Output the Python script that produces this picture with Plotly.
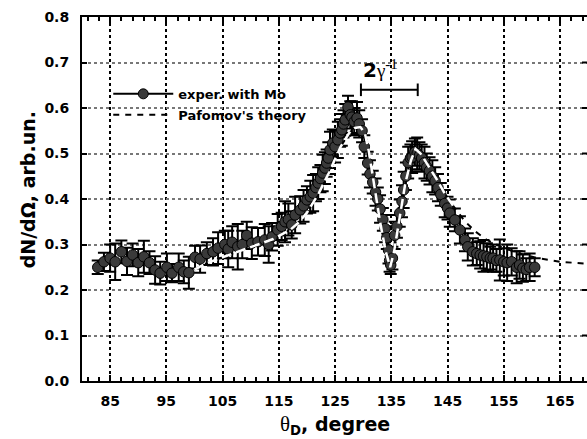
import plotly.graph_objects as go

# ---------------- data ----------------
theta_exp = [82.8, 83.9, 85.0, 85.9, 87.0, 88.0, 89.0, 90.0, 91.0, 92.0,
             93.0, 93.9, 95.1, 96.0, 97.2, 98.1, 99.0, 100.1, 101.0, 102.2,
             103.3, 104.2, 105.4, 106.0, 106.7, 107.7, 108.5, 109.3, 110.2, 111.3,
             112.5, 113.2, 113.8, 114.8, 115.5, 116.1, 116.7, 117.3, 117.9, 118.8,
             119.4, 120.0, 120.6, 121.1, 121.6, 122.0, 122.4, 122.8, 123.2, 123.5,
             123.8, 124.1, 124.6, 125.0, 125.5, 125.9, 126.2, 126.5, 126.8, 127.3,
             127.7, 128.0, 128.4, 128.9, 129.3, 129.8, 130.2, 130.8, 131.2, 131.7,
             132.2, 132.6, 133.0, 133.5, 133.9, 134.2, 134.5, 134.7, 134.9, 135.2,
             135.6, 136.0, 136.5, 136.9, 137.2, 137.6, 138.0, 138.4, 138.7, 139.2,
             139.6, 140.0, 140.4, 140.9, 141.3, 141.8, 142.3, 142.8, 143.3, 143.8,
             144.5, 145.0, 145.4, 146.3, 147.2, 148.1, 148.6, 149.5, 150.2, 150.8,
             151.4, 152.0, 152.6, 153.1, 153.7, 154.3, 155.0, 155.6, 156.4, 157.3,
             157.8, 158.4, 159.0, 159.6, 160.5]
dn_exp = [0.250, 0.262, 0.270, 0.262, 0.284, 0.263, 0.277, 0.260, 0.273, 0.260,
          0.244, 0.237, 0.250, 0.237, 0.250, 0.240, 0.238, 0.272, 0.268, 0.280,
          0.284, 0.292, 0.300, 0.290, 0.305, 0.295, 0.300, 0.320, 0.303, 0.306,
          0.310, 0.300, 0.317, 0.332, 0.340, 0.350, 0.355, 0.343, 0.365, 0.376,
          0.385, 0.398, 0.405, 0.413, 0.425, 0.435, 0.445, 0.457, 0.468, 0.479,
          0.490, 0.508, 0.523, 0.515, 0.530, 0.545, 0.552, 0.565, 0.574, 0.602,
          0.585, 0.580, 0.570, 0.578, 0.565, 0.550, 0.515, 0.479, 0.455, 0.437,
          0.415, 0.400, 0.378, 0.355, 0.335, 0.315, 0.288, 0.265, 0.255, 0.270,
          0.320, 0.340, 0.369, 0.395, 0.420, 0.450, 0.480, 0.490, 0.492, 0.503,
          0.500, 0.495, 0.490, 0.480, 0.470, 0.462, 0.450, 0.440, 0.425, 0.410,
          0.390, 0.380, 0.369, 0.354, 0.332, 0.310, 0.295, 0.284, 0.280, 0.277,
          0.275, 0.273, 0.270, 0.270, 0.265, 0.266, 0.262, 0.260, 0.262, 0.250,
          0.255, 0.248, 0.245, 0.250, 0.250]
err_exp = [0.015, 0.020, 0.030, 0.040, 0.025, 0.030, 0.025, 0.030, 0.035, 0.025,
           0.030, 0.025, 0.030, 0.020, 0.030, 0.025, 0.035, 0.025, 0.030, 0.025,
           0.030, 0.035, 0.030, 0.040, 0.035, 0.050, 0.030, 0.030, 0.035, 0.030,
           0.035, 0.040, 0.030, 0.035, 0.030, 0.045, 0.035, 0.030, 0.040, 0.030,
           0.035, 0.030, 0.035, 0.040, 0.030, 0.035, 0.030, 0.040, 0.035, 0.030,
           0.035, 0.040, 0.030, 0.035, 0.040, 0.030, 0.035, 0.030, 0.035, 0.025,
           0.030, 0.035, 0.030, 0.035, 0.030, 0.025, 0.025, 0.025, 0.030, 0.025,
           0.030, 0.025, 0.030, 0.025, 0.030, 0.025, 0.030, 0.025, 0.020, 0.025,
           0.030, 0.025, 0.030, 0.035, 0.040, 0.030, 0.035, 0.030, 0.035, 0.030,
           0.035, 0.030, 0.030, 0.035, 0.030, 0.030, 0.035, 0.030, 0.030, 0.025,
           0.030, 0.025, 0.030, 0.025, 0.030, 0.025, 0.030, 0.030, 0.025, 0.030,
           0.035, 0.030, 0.025, 0.030, 0.025, 0.045, 0.030, 0.040, 0.030, 0.035,
           0.030, 0.030, 0.025, 0.030, 0.020]

theta_th = [100.0, 102.0, 105.0, 108.0, 111.0, 114.0, 117.0, 118.5, 120.0, 122.0,
            124.0, 126.0, 127.5, 128.5, 129.5, 130.3, 131.0, 132.0, 133.0, 134.0,
            134.8, 135.5, 136.5, 137.5, 138.5, 139.3, 140.2, 141.5, 143.0, 144.5,
            146.0, 148.0, 150.0, 152.0, 155.0, 158.0, 161.0, 165.0, 169.5]
dn_th = [0.245, 0.258, 0.272, 0.285, 0.298, 0.312, 0.332, 0.348, 0.370, 0.410,
         0.460, 0.515, 0.545, 0.556, 0.558, 0.545, 0.505, 0.425, 0.350, 0.285,
         0.250, 0.285, 0.360, 0.435, 0.485, 0.510, 0.500, 0.475, 0.445, 0.412,
         0.385, 0.352, 0.328, 0.310, 0.292, 0.280, 0.270, 0.262, 0.258]

# range where the theory curve is drawn light over the experimental markers
overlay_range = (100.0, 147.0)

legend_names = ["exper. with Mo", "Pafomov's theory"]
gamma_bar_x = [129.6, 139.7]
gamma_bar_y = 0.64
gamma_label_pos = (133.0, 0.685)

x_range = [80, 169.8]
y_range = [0, 0.8]

SANS = "DejaVu Sans, Arial, sans-serif"
SERIF = "Liberation Serif, Times New Roman, serif"

fig = go.Figure()

# theory, black dashed (below markers)
fig.add_trace(go.Scatter(x=theta_th, y=dn_th, mode="lines",
                         line=dict(color="black", width=2, dash="6px,6px"),
                         showlegend=False, hoverinfo="skip"))

# experimental data with error bars
fig.add_trace(go.Scatter(x=theta_exp, y=dn_exp, mode="markers",
                         marker=dict(symbol="circle", size=10.5, color="#3a3a3a",
                                     line=dict(color="black", width=1)),
                         error_y=dict(type="data", array=err_exp, visible=True,
                                      color="black", thickness=2, width=6),
                         showlegend=False))

# theory, light overlay on top of markers
ov_x = [t for t in theta_th if overlay_range[0] <= t <= overlay_range[1]]
ov_y = [v for t, v in zip(theta_th, dn_th) if overlay_range[0] <= t <= overlay_range[1]]
fig.add_trace(go.Scatter(x=ov_x, y=ov_y, mode="lines",
                         line=dict(color="white", width=2.5, dash="10px,5px"),
                         showlegend=False, hoverinfo="skip"))

# legend entries
fig.add_trace(go.Scatter(x=[None], y=[None], mode="lines+markers", name=legend_names[0],
                         legendgroup="a",
                         line=dict(color="black", width=2),
                         marker=dict(symbol="circle", size=10, color="#3a3a3a",
                                     line=dict(color="black", width=1))))
fig.add_trace(go.Scatter(x=[None], y=[None], mode="lines", name=legend_names[1],
                         legendgroup="b",
                         line=dict(color="black", width=2, dash="6px,6px")))

# 2/gamma bar
fig.add_trace(go.Scatter(x=gamma_bar_x, y=[gamma_bar_y, gamma_bar_y], mode="lines+markers",
                         line=dict(color="black", width=2),
                         marker=dict(symbol="line-ns-open", size=9,
                                     line=dict(color="black", width=2)),
                         showlegend=False, hoverinfo="skip"))

fig.add_annotation(x=gamma_label_pos[0], y=gamma_label_pos[1], xref="x", yref="y",
                   text=("<b>2</b><span style='font-family:Liberation Serif;font-size:19px'>γ</span>"
                         "<sup><span style='font-family:Liberation Serif;font-size:15px'>-1</span></sup>"),
                   showarrow=False, font=dict(family=SANS, size=20, color="black"))

# axis titles
fig.add_annotation(x=0.5, y=-0.122, xref="paper", yref="paper", yanchor="middle",
                   text=("<span style='font-family:Liberation Serif;font-weight:normal;font-size:21px'>θ</span>"
                         "<sub>D</sub>, degree"),
                   showarrow=False, font=dict(family=SANS, size=19, color="black", weight="bold"))
fig.add_annotation(x=-0.108, y=0.525, xref="paper", yref="paper", textangle=-90,
                   xanchor="center", yanchor="middle",
                   text="dN/dΩ, arb.un.", showarrow=False,
                   font=dict(family=SANS, size=19, color="black", weight="bold"))

# right side tick marks (axis itself lies beyond the visible area)
for v in [0.1, 0.2, 0.3, 0.4, 0.5, 0.6, 0.7]:
    fig.add_shape(type="line", xref="paper", yref="y", x0=0.99, x1=1.0, y0=v, y1=v,
                  line=dict(color="black", width=2))

fig.update_xaxes(range=x_range, tick0=85, dtick=10, ticks="inside", ticklen=6,
                 tickwidth=2, tickcolor="black",
                 minor=dict(tick0=81, dtick=2, ticks="inside", ticklen=4,
                            tickwidth=2, tickcolor="black", showgrid=False),
                 showline=True, linecolor="black", linewidth=2, mirror="allticks",
                 showgrid=True, gridcolor="black", griddash="dot", gridwidth=1.5,
                 zeroline=False, ticklabelstandoff=6,
                 tickfont=dict(family=SANS, size=14, color="black", weight="bold"))
fig.update_yaxes(range=y_range, tick0=0, dtick=0.1, tickformat=".1f",
                 ticks="inside", ticklen=5, tickwidth=2, tickcolor="black",
                 showline=True, linecolor="black", linewidth=2, mirror=False,
                 showgrid=True, gridcolor="#777777", griddash="dot", gridwidth=1.5,
                 zeroline=False, ticklabelstandoff=8,
                 tickfont=dict(family=SANS, size=14, color="black", weight="bold"))

fig.update_layout(width=587, height=439,
                  margin=dict(l=82, r=0, t=17, b=58),
                  plot_bgcolor="white", paper_bgcolor="white",
                  showlegend=True,
                  legend=dict(x=0.052, y=0.83, xanchor="left", yanchor="top",
                              bgcolor="rgba(0,0,0,0)", borderwidth=0,
                              tracegroupgap=1, itemwidth=60,
                              font=dict(family=SANS, size=13, color="black", weight="bold")))

fig.write_html("out.html")
